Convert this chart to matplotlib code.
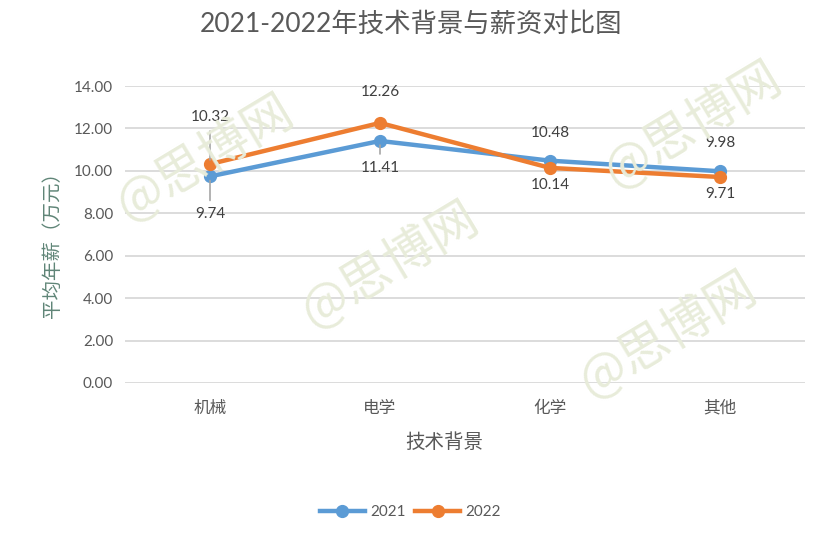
import matplotlib.pyplot as plt

plt.rcParams['font.family'] = ['Lato', 'Noto Sans CJK SC', 'DejaVu Sans']

# 数据
categories = ['机械', '电学', '化学', '其他']
salary_2021 = [9.74, 11.41, 10.48, 9.98]
salary_2022 = [10.32, 12.26, 10.14, 9.71]
series_names = ['2021', '2022']

blue = '#5B9BD5'
orange = '#ED7D31'
text_c = '#595959'

fig = plt.figure(figsize=(8.21, 5.40), dpi=100)
ax = fig.add_axes([125 / 821, 1 - 383 / 540, 680 / 821, 297 / 540])

# 水印
for (wx, wy) in [(205, 158), (390, 265), (668, 335), (693, 125)]:
    fig.text(wx / 821, 1 - wy / 540, '@思博网', fontsize=36, color='#e8ecda',
             rotation=31, ha='center', va='center', zorder=0,
             family=['Noto Sans CJK SC', 'DejaVu Sans'], fontweight='light')

x = range(len(categories))
ax.plot(x, salary_2021, color=blue, lw=3.2, marker='o', ms=8.5, label=series_names[0], zorder=3)
ax.plot(x, salary_2022, color=orange, lw=3.2, marker='o', ms=8.5, label=series_names[1], zorder=4)

ax.set_xlim(-0.5, 3.5)
ax.set_ylim(0, 14)
ax.set_yticks(range(0, 15, 2))
ax.set_yticklabels([f'{v:.2f}' for v in range(0, 15, 2)])
ax.set_xticks(list(x))
ax.set_xticklabels(categories, family=['Noto Sans CJK SC'], fontweight='light')
ax.tick_params(length=0, labelsize=11, colors=text_c)
ax.tick_params(axis='x', pad=12, labelsize=12)
ax.tick_params(axis='y', pad=8.5)
ax.grid(axis='y', color='#d9d9d9', lw=1.3)
ax.set_axisbelow(True)
for s in ax.spines.values():
    s.set_visible(False)
ax.patch.set_alpha(0)

# 数据标签 (像素偏移, 是否画引线)
offs_2021 = [(0, -38, True), (0, -27, True), (0, 28, False), (0, 28, False)]
offs_2022 = [(0, 47, True), (0, 31, False), (0, -17, False), (0, -17, False)]
for vals, offs in [(salary_2021, offs_2021), (salary_2022, offs_2022)]:
    for i, (v, (dx, dy, lead)) in enumerate(zip(vals, offs)):
        arrow = dict(arrowstyle='-', color='#a6a6a6', lw=1.2, shrinkA=3, shrinkB=3) if lead else None
        ax.annotate(f'{v:.2f}', (i, v), xytext=(dx, dy), textcoords='offset pixels',
                    ha='center', va='center', fontsize=11, color='#404040',
                    arrowprops=arrow, zorder=5)

fig.text(52 / 821, 1 - 240 / 540, '平均年薪（万元）', rotation=90, ha='center', va='center',
         fontsize=14, color='#5f8577', family=['Noto Sans CJK SC'], fontweight='light')
fig.text(444 / 821, 1 - 442 / 540, '技术背景', ha='center', va='center',
         fontsize=14, color=text_c, family=['Noto Sans CJK SC'], fontweight='light')
fig.text(411 / 821, 1 - 24 / 540, '2021-2022年技术背景与薪资对比图', ha='center', va='center',
         fontsize=19, color=text_c)

fig.legend(loc='center', bbox_to_anchor=(410 / 821, 1 - 512 / 540), ncol=2, frameon=False,
           fontsize=11, handlelength=3, columnspacing=0.6, handletextpad=0.3,
           labelcolor=text_c)

fig.savefig('out.png', dpi=100)
